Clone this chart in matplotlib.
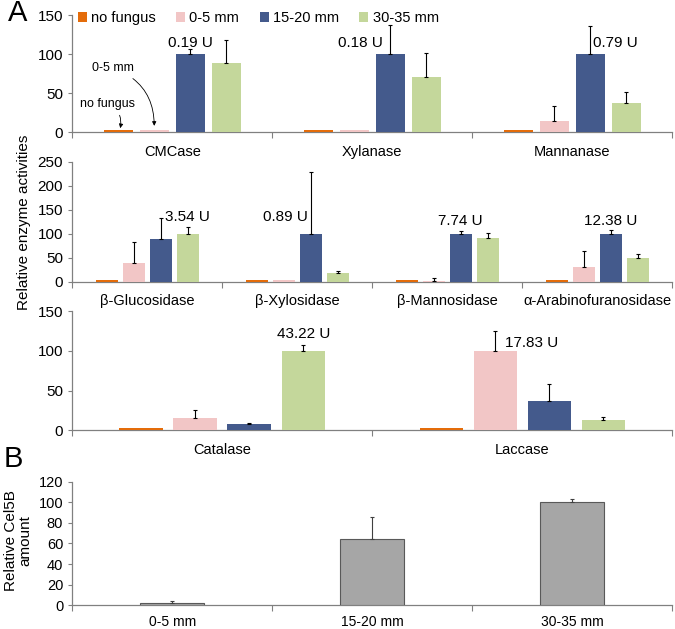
import numpy as np
import matplotlib.pyplot as plt
from matplotlib.patches import Patch

plt.rcParams['font.family'] = ['Liberation Sans', 'DejaVu Sans']

series = ['no fungus', '0-5 mm', '15-20 mm', '30-35 mm']
colors = ['#E46C0A', '#F2C6C6', '#445A8C', '#C4D79B']

# panel A, rows of enzymes
row1_cats = ['CMCase', 'Xylanase', 'Mannanase']
row1_mean = [[2.5, 2.5, 100, 88], [2.5, 2.5, 100, 71], [2.5, 14, 100, 37.5]]
row1_err = [[0, 0, 7, 30], [0, 0, 37, 31], [0, 20, 36, 14]]
row1_units = ['0.19 U', '0.18 U', '0.79 U']

row2_cats = ['β-Glucosidase', 'β-Xylosidase', 'β-Mannosidase', 'α-Arabinofuranosidase']
row2_mean = [[3, 40, 89, 100], [3, 3, 100, 19], [3, 2, 100, 92], [3, 31, 100, 50]]
row2_err = [[0, 43, 44, 14], [0, 0, 129, 3], [0, 5, 5, 9], [0, 33, 8, 8]]
row2_units = ['3.54 U', '0.89 U', '7.74 U', '12.38 U']

row3_cats = ['Catalase', 'Laccase']
row3_mean = [[2.5, 15.8, 8, 100], [2.5, 100, 36.5, 13]]
row3_err = [[0, 10, 1, 8], [0, 25, 22, 4]]
row3_units = ['43.22 U', '17.83 U']

# panel B
b_cats = ['0-5 mm', '15-20 mm', '30-35 mm']
b_mean = [2.3, 64, 100]
b_err = [1.7, 21.5, 3.5]

offsets = np.array([-0.27, -0.09, 0.09, 0.27])
bw = 0.145


def style_axis(ax, cats, ymax, ystep):
    n = len(cats)
    ax.set_xlim(0, n)
    ax.set_ylim(0, ymax)
    ax.set_yticks(np.arange(0, ymax + 1, ystep))
    for s in ['top', 'right']:
        ax.spines[s].set_visible(False)
    for s in ['left', 'bottom']:
        ax.spines[s].set_color('#808080')
        ax.spines[s].set_linewidth(0.9)
    ax.set_xticks(np.arange(0, n + 1))
    ax.set_xticklabels([])
    ax.set_xticks(np.arange(n) + 0.5, minor=True)
    ax.set_xticklabels(cats, minor=True)
    ax.tick_params(axis='x', which='major', direction='out', length=4, color='#808080')
    ax.tick_params(axis='x', which='minor', length=0, pad=9, labelsize=10.5)
    ax.tick_params(axis='y', direction='out', length=3, color='#808080', labelsize=11)


def up_errors(ax, x, y, err, color='black'):
    # only the upper half, and only where there is an error
    x, y, err = np.asarray(x), np.asarray(y), np.asarray(err)
    m = err > 0
    if m.any():
        ax.errorbar(x[m], y[m], yerr=[np.zeros(m.sum()), err[m]], fmt='none',
                    ecolor=color, elinewidth=0.8, capsize=1.5, capthick=0.8, zorder=4)


def draw_row(ax, cats, mean, err, ymax, ystep):
    mean = np.array(mean)
    err = np.array(err)
    centers = np.arange(len(cats)) + 0.5
    for j in range(4):
        ax.bar(centers + offsets[j], mean[:, j], width=bw, color=colors[j],
               label=series[j], zorder=3)
        up_errors(ax, centers + offsets[j], mean[:, j], err[:, j])
    style_axis(ax, cats, ymax, ystep)
    return centers


fig = plt.figure(figsize=(6.75, 6.29), dpi=100)
L, W = 0.107, 0.889
ax1 = fig.add_axes([L, 0.790, W, 0.186])
ax2 = fig.add_axes([L, 0.552, W, 0.191])
ax3 = fig.add_axes([L, 0.316, W, 0.189])
axb = fig.add_axes([L, 0.038, W, 0.196])

c1 = draw_row(ax1, row1_cats, row1_mean, row1_err, 150, 50)
c2 = draw_row(ax2, row2_cats, row2_mean, row2_err, 250, 50)
c3 = draw_row(ax3, row3_cats, row3_mean, row3_err, 150, 50)

fs = 11
ax1.text(c1[0] + offsets[2], 114, row1_units[0], ha='center', va='center', fontsize=fs)
ax1.text(c1[1] + offsets[2] - 0.035, 114, row1_units[1], ha='right', va='center', fontsize=fs)
ax1.text(c1[2] + offsets[2] + 0.015, 114, row1_units[2], ha='left', va='center', fontsize=fs)

ax2.text(c2[0] + offsets[3], 135, row2_units[0], ha='center', va='center', fontsize=fs)
ax2.text(c2[1] + offsets[2] - 0.02, 135, row2_units[1], ha='right', va='center', fontsize=fs)
ax2.text(c2[2] + offsets[2], 127, row2_units[2], ha='center', va='center', fontsize=fs)
ax2.text(c2[3] + offsets[2], 127, row2_units[3], ha='center', va='center', fontsize=fs)

ax3.text(c3[0] + offsets[3], 121, row3_units[0], ha='center', va='center', fontsize=fs)
ax3.text(c3[1] + offsets[1] + 0.033, 110, row3_units[1], ha='left', va='center', fontsize=fs)

# arrows pointing to the tiny bars in CMCase
ax1.annotate('0-5 mm', xy=(c1[0] + offsets[1], 8), xytext=(0.1, 82),
             fontsize=9, ha='left', va='center',
             arrowprops=dict(arrowstyle='-|>', color='black', lw=0.6, mutation_scale=6,
                             connectionstyle='arc3,rad=-0.35', shrinkA=2, shrinkB=0))
ax1.annotate('no fungus', xy=(c1[0] + offsets[0] + 0.01, 5), xytext=(0.04, 36),
             fontsize=9, ha='left', va='center',
             arrowprops=dict(arrowstyle='-|>', color='black', lw=0.6, mutation_scale=6,
                             connectionstyle='arc3,rad=-0.4', shrinkA=2, shrinkB=0))

handles = [Patch(facecolor=colors[j], label=series[j]) for j in range(4)]
ax1.legend(handles=handles, loc='center left', bbox_to_anchor=(0.0, 0.975), ncol=4,
           frameon=False, fontsize=10.5, handlelength=0.6, handleheight=0.6,
           handletextpad=0.3, columnspacing=1.4, borderaxespad=0)

# panel B
bx = np.arange(len(b_cats)) + 0.5
axb.bar(bx, b_mean, width=0.32, color='#A6A6A6', edgecolor='#595959', linewidth=0.8,
        zorder=3)
up_errors(axb, bx, b_mean, b_err, color='#404040')
style_axis(axb, b_cats, 120, 20)
axb.tick_params(axis='x', which='minor', labelsize=10, pad=7)
axb.tick_params(axis='y', labelsize=10.5)

fig.text(0.012, 0.979, 'A', fontsize=21, ha='left', va='center')
fig.text(0.006, 0.270, 'B', fontsize=21, ha='left', va='center')
fig.text(0.035, 0.647, 'Relative enzyme activities', rotation=90, fontsize=11,
         ha='center', va='center')
fig.text(0.027, 0.14, 'Relative Cel5B\namount', rotation=90, fontsize=11,
         ha='center', va='center', multialignment='center', linespacing=1.1)

fig.savefig('out.png', dpi=100)
